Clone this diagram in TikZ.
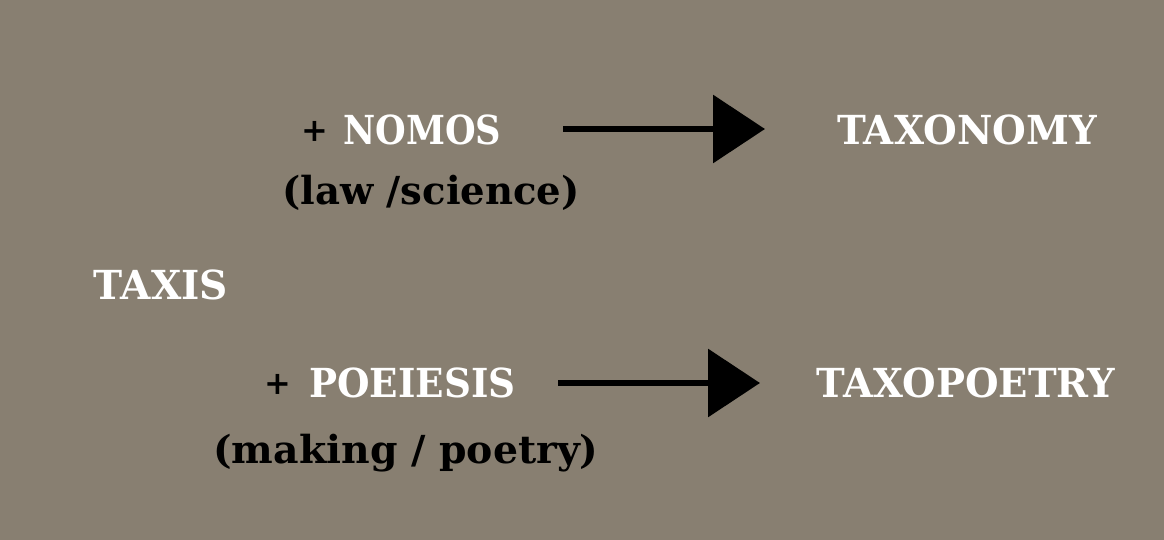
\documentclass[tikz,border=0pt]{standalone}
\usepackage{fontspec}
\setmainfont{DejaVu Serif}
\newfontfamily\bigfont[FakeStretch=0.88]{DejaVu Serif}
\usetikzlibrary{arrows.meta}
\definecolor{bg}{RGB}{136,127,113}
\newcommand\hstretch[2]{\scalebox{#1}[1]{#2}}
\tikzset{
  big/.style={font=\bigfont\bfseries\fontsize{20}{22}\selectfont, text=white, inner sep=0pt},
  sub/.style={font=\bfseries\fontsize{19.3}{21}\selectfont, text=black, inner sep=0pt},
  plus/.style={font=\bfseries\fontsize{16}{17}\selectfont, text=black, inner sep=0pt},
  bigarrow/.style={line width=3.3pt, draw=black, -{Triangle[length=26pt,width=33.5pt]}}
}
\begin{document}
\begin{tikzpicture}[x=0.5pt,y=-0.5pt]
\fill[bg] (0,0) rectangle (1164,540);
\useasboundingbox (0,0) rectangle (1164,540);
% top row
\node[plus] (p1) at (315,131) {+};
\node[big, anchor=west] (nomos) at (343,130) {NOMOS};
\node[sub] (law) at (431,193) {(law /science)};
\coordinate (a1s) at (563,129);
\coordinate (a1e) at (765,129);
\draw[bigarrow] (a1s) -- (a1e);
\node[big] (taxonomy) at (967,130) {\hstretch{1.1}{TAXONOMY}};
% middle
\node[big] (taxis) at (161,285) {\hstretch{1.11}{TAXIS}};
% bottom row
\node[plus] (p2) at (278,384) {+};
\node[big, anchor=west] (poe) at (309,383) {\hstretch{1.06}{POEIESIS}};
\node[sub] (making) at (406,453) {\hstretch{1.02}{(making / poetry)}};
\coordinate (a2s) at (558,383);
\coordinate (a2e) at (760,383);
\draw[bigarrow] (a2s) -- (a2e);
\node[big] (taxopoetry) at (966,383) {\hstretch{1.095}{TAXOPOETRY}};
\end{tikzpicture}
\end{document}
